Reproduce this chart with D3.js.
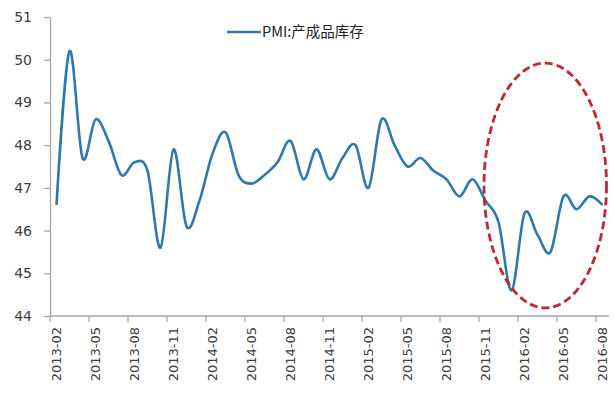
<!DOCTYPE html>
<html>
<head>
<meta charset="utf-8">
<title>PMI 产成品库存</title>
<style>
    body { margin: 0; background: #fff; }
    svg { display: block; }
    .axis path, .axis line { stroke: #a6a6a6; stroke-width: 1.3; }
    .axis text { fill: #404040; font-family: "DejaVu Sans", sans-serif; font-size: 13px; }
    .yaxis text { font-size: 14px; }
</style>
</head>
<body>
<svg width="614" height="395"></svg>
<script src="https://cdn.jsdelivr.net/npm/d3@7/dist/d3.min.js"></script>
<script>
    var months = [
        '2013-02','2013-03','2013-04','2013-05','2013-06','2013-07','2013-08','2013-09','2013-10','2013-11','2013-12',
        '2014-01','2014-02','2014-03','2014-04','2014-05','2014-06','2014-07','2014-08','2014-09','2014-10','2014-11','2014-12',
        '2015-01','2015-02','2015-03','2015-04','2015-05','2015-06','2015-07','2015-08','2015-09','2015-10','2015-11','2015-12',
        '2016-01','2016-02','2016-03','2016-04','2016-05','2016-06','2016-07','2016-08'
    ];
    var inventory = [
        46.6, 50.2, 47.7, 48.6, 48.1, 47.3, 47.6, 47.4, 45.6, 47.9, 46.1,
        46.7, 47.8, 48.3, 47.3, 47.1, 47.3, 47.6, 48.1, 47.2, 47.9, 47.2, 47.7,
        48.0, 47.0, 48.6, 48.0, 47.5, 47.7, 47.4, 47.2, 46.8, 47.2, 46.7, 46.2,
        44.6, 46.4, 45.9, 45.5, 46.8, 46.5, 46.8, 46.6
    ];
    var tickLabels = ['2013-02','2013-05','2013-08','2013-11','2014-02','2014-05','2014-08','2014-11',
                      '2015-02','2015-05','2015-08','2015-11','2016-02','2016-05','2016-08'];
    var yTicks = [44, 45, 46, 47, 48, 49, 50, 51];
    var seriesName = 'PMI:产成品库存';

    var svg = d3.select('svg');
    // note: can't call these top/left etc at global scope (window.top)
    var plotL = 50, plotR = 609, plotT = 17, plotB = 316;

    var x = d3.scaleBand().domain(months).range([plotL, plotR]).paddingInner(0).paddingOuter(0);
    var bw = x.bandwidth();
    var y = d3.scaleLinear().domain([44, 51]).range([plotB, plotT]);

    // y axis
    svg.append('g').attr('class', 'axis yaxis')
        .attr('transform', 'translate(' + plotL + ',0)')
        .call(d3.axisLeft(y).tickValues(yTicks).tickSize(6).tickSizeOuter(0).tickPadding(12).tickFormat(d3.format('d')));

    // x axis: ticks on category boundaries, labels at category centres
    var xg = svg.append('g').attr('class', 'axis xaxis');
    xg.append('line')
        .attr('x1', plotL).attr('x2', plotR)
        .attr('y1', plotB).attr('y2', plotB);
    xg.selectAll('line.tick').data(tickLabels).enter().append('line')
        .attr('class', 'tick')
        .attr('x1', function(d) { return x(d); })
        .attr('x2', function(d) { return x(d); })
        .attr('y1', plotB).attr('y2', plotB + 6);
    xg.selectAll('text').data(tickLabels).enter().append('text')
        .attr('transform', function(d) { return 'translate(' + (x(d) + bw / 2) + ',' + (plotB + 11) + ') rotate(-90)'; })
        .attr('text-anchor', 'end')
        .attr('dy', '0.36em')
        .text(function(d) { return d; });

    // line
    var line = d3.line()
        .x(function(d, i) { return x(months[i]) + bw / 2; })
        .y(function(d) { return y(d); })
        .curve(d3.curveCardinal.tension(0));

    svg.append('path')
        .datum(inventory)
        .attr('d', line)
        .attr('fill', 'none')
        .attr('stroke', '#2b78b3')
        .attr('stroke-width', 2.6);

    // red dashed annotation ellipse
    var eLeft = x('2015-12') - 8, eRight = x('2016-08') + bw / 2 + 4;
    svg.append('ellipse')
        .attr('cx', (eLeft + eRight) / 2)
        .attr('cy', (y(49.92) + y(44.19)) / 2)
        .attr('rx', (eRight - eLeft) / 2)
        .attr('ry', (y(44.19) - y(49.92)) / 2)
        .attr('fill', 'none')
        .attr('stroke', '#c0282e')
        .attr('stroke-width', 2.8)
        .attr('stroke-dasharray', '8,4');

    // legend
    var lg = svg.append('g').attr('transform', 'translate(227,32)');
    lg.append('line').attr('x1', 0).attr('x2', 34).attr('y1', 0).attr('y2', 0)
        .attr('stroke', '#2b78b3').attr('stroke-width', 2.6);
    lg.append('text').attr('x', 35).attr('dy', '0.35em')
        .attr('font-family', '"Noto Sans CJK SC", sans-serif')
        .attr('font-size', 14.5)
        .attr('fill', '#222')
        .text(seriesName);
</script>
</body>
</html>
